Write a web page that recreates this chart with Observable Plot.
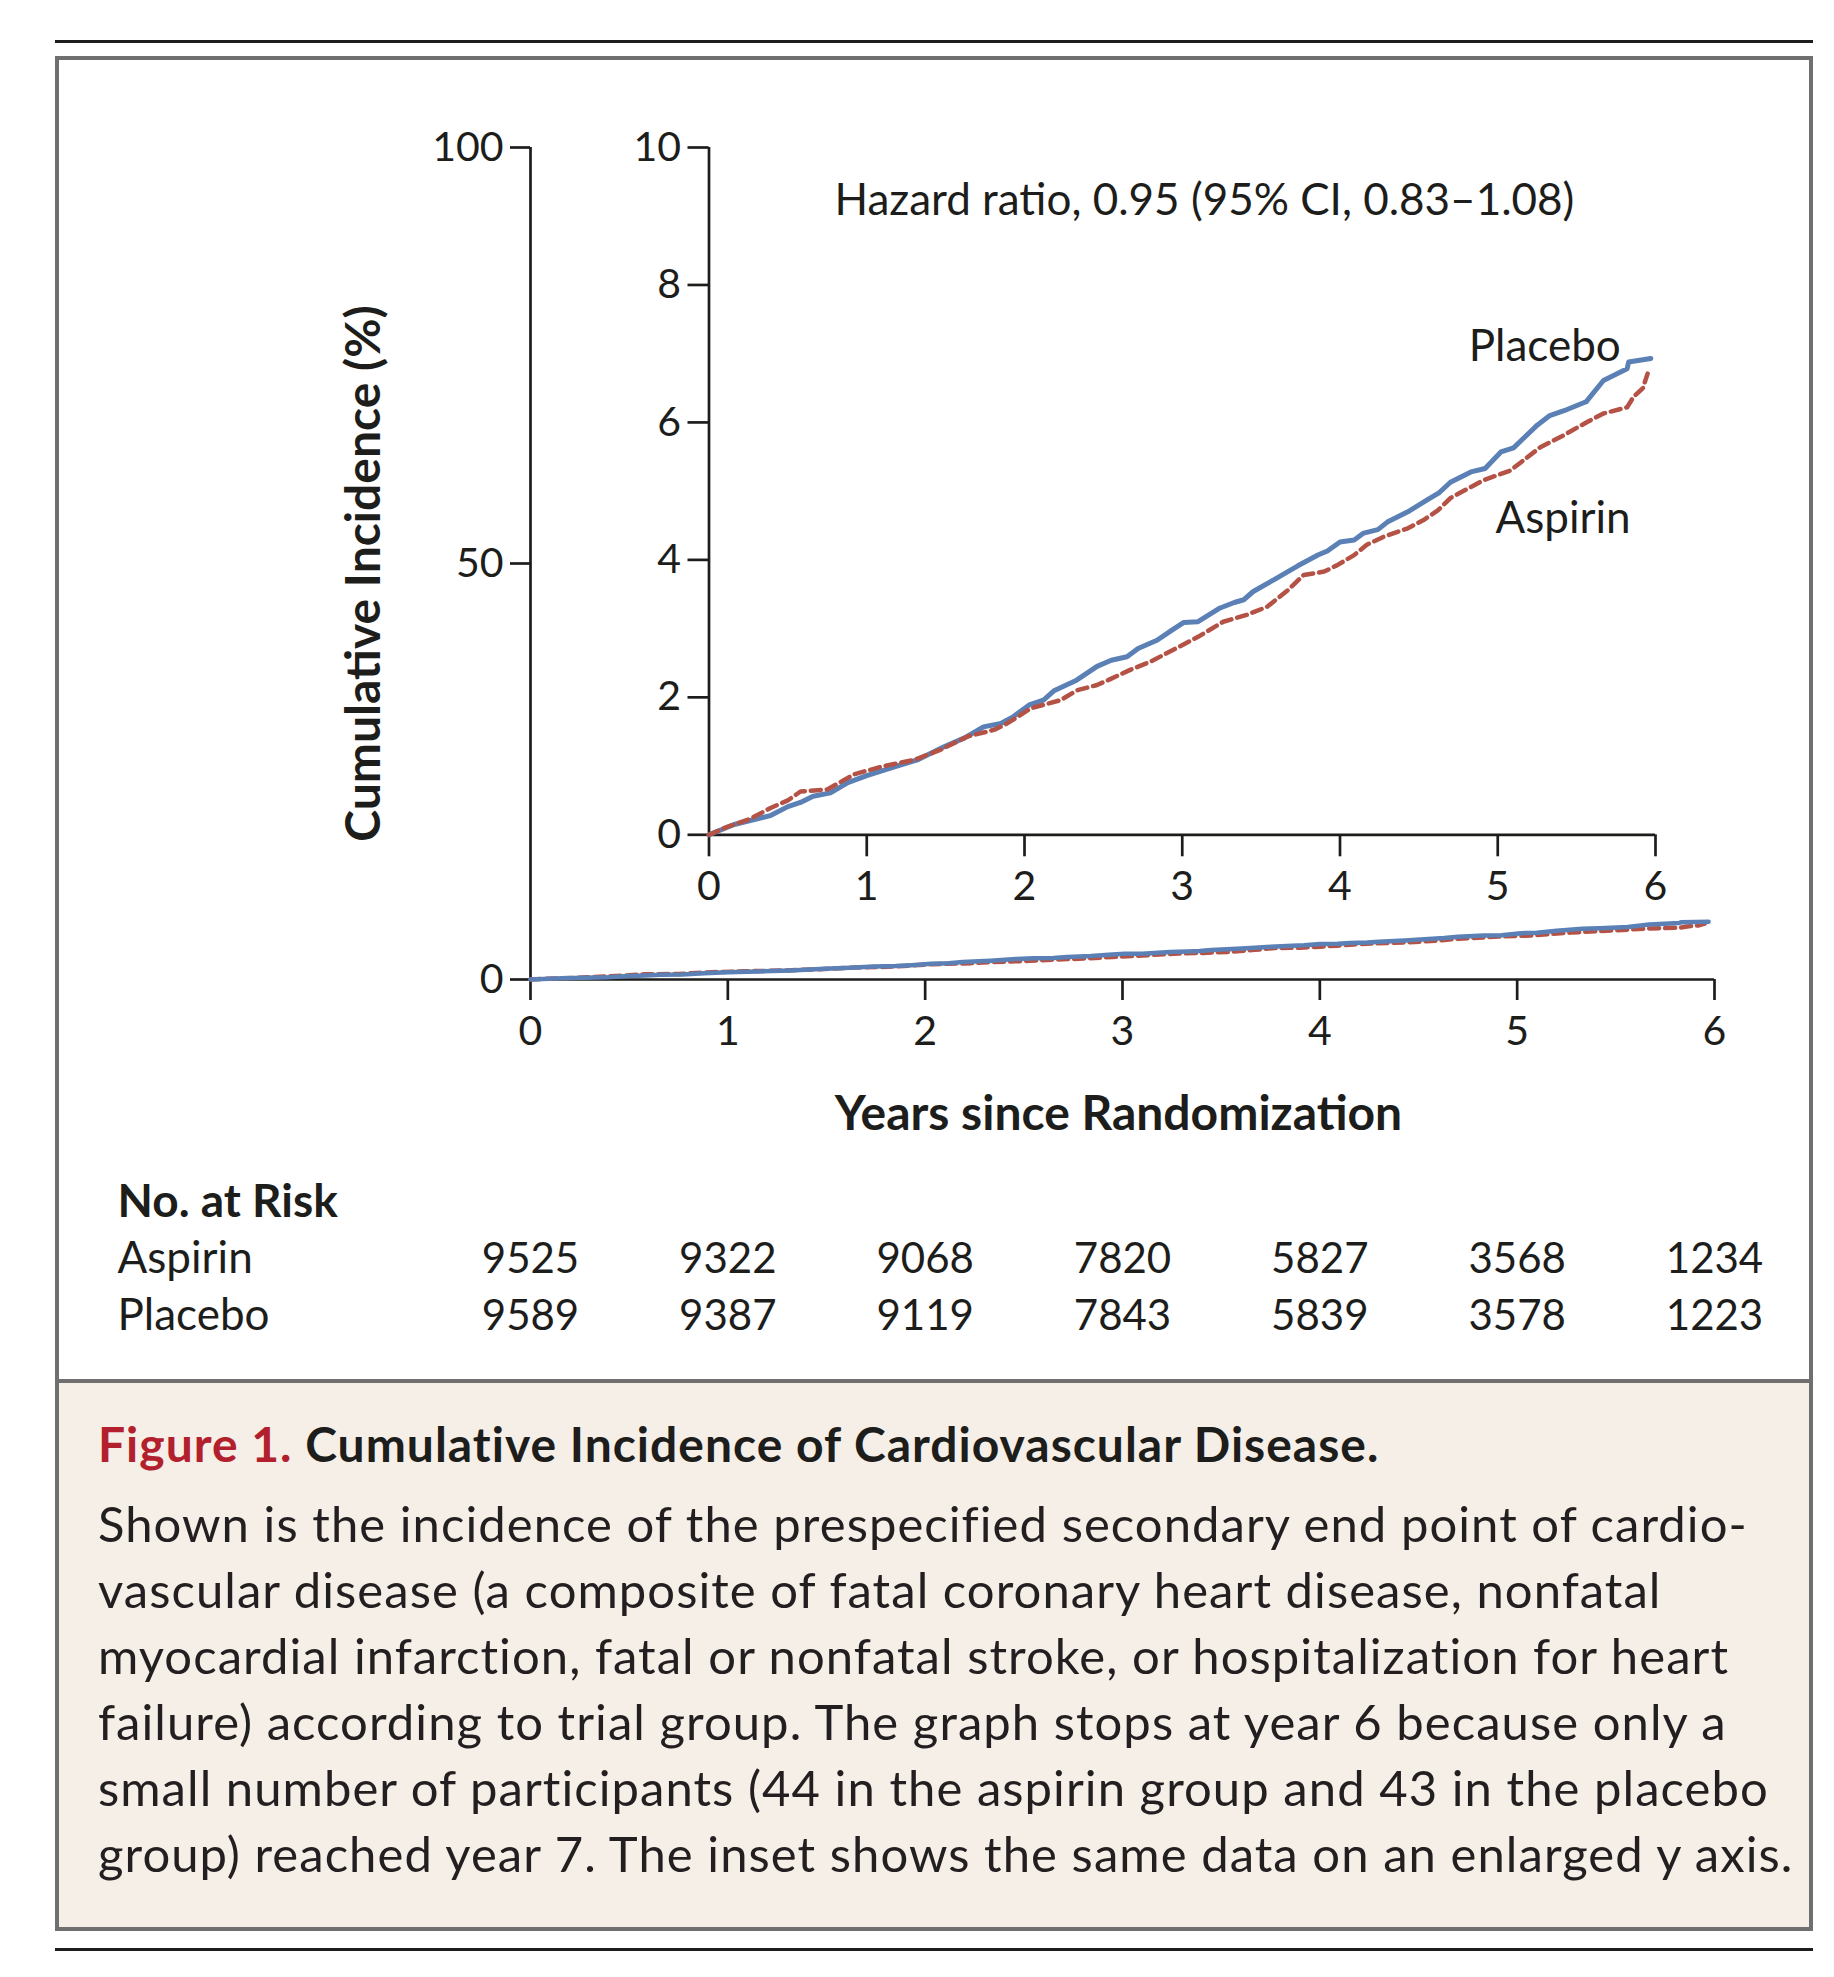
<!DOCTYPE html>
<html>
<head>
<meta charset="utf-8">
<script src="https://cdn.jsdelivr.net/npm/d3@7"></script>
<script src="https://cdn.jsdelivr.net/npm/@observablehq/plot@0.6"></script>
<style>
  html, body { margin: 0; padding: 0; background: #ffffff; overflow: hidden; }
  #fig { position: relative; width: 1834px; height: 1977px; font-family: Lato, "Open Sans", sans-serif; color: #1d1d1b; }
  .rule { position: absolute; left: 55px; width: 1758px; height: 3px; background: #1d1d1b; }
  #box { position: absolute; left: 55px; top: 56px; width: 1758px; height: 1875px; border: 4px solid #6f6f6f; box-sizing: border-box; }
  #capbg { position: absolute; left: 59px; top: 1379px; width: 1750px; height: 548px; background: #f5efe8; border-top: 4px solid #6f6f6f; box-sizing: border-box; }
  .layer { position: absolute; left: 0; top: 0; }
  #captitle { position: absolute; left: 98px; top: 1411px; font-size: 48px; letter-spacing: 1px; line-height: 66px; font-weight: 700; white-space: nowrap; color: #1d1d1b; }
  #captitle span { color: #b3202d; }
  #capbody { position: absolute; left: 98px; top: 1490px; font-size: 49px; letter-spacing: 1.05px; line-height: 66px; white-space: nowrap; color: #231f20; }
</style>
</head>
<body>
<div id="fig">
  <div class="rule" style="top:40px"></div>
  <div id="box"></div>
  <div id="capbg"></div>
  <div id="main" class="layer"></div>
  <div id="inset" class="layer"></div>
  <div id="captitle"></div>
  <div id="capbody"></div>
  <div class="rule" style="top:1948px"></div>
</div>
<script>
// ---- data ----
const xTicks = [0, 1, 2, 3, 4, 5, 6];
const mainYTicks = [0, 50, 100];
const insetYTicks = [0, 2, 4, 6, 8, 10];

const placeboYears = [0, 0.16, 0.39, 0.50, 0.58, 0.66, 0.77, 0.88, 1.00, 1.15, 1.32, 1.49, 1.62, 1.74, 1.85, 1.93, 2.03, 2.12, 2.19, 2.33, 2.46, 2.55, 2.65, 2.72, 2.84, 2.93, 3.01, 3.10, 3.24, 3.33, 3.39, 3.45, 3.58, 3.67, 3.73, 3.86, 3.92, 4.00, 4.09, 4.15, 4.24, 4.30, 4.43, 4.55, 4.63, 4.70, 4.83, 4.92, 5.02, 5.10, 5.20, 5.25, 5.33, 5.42, 5.56, 5.67, 5.82, 5.83, 5.97];
const placeboPct   = [0, 0.15, 0.28, 0.41, 0.47, 0.56, 0.61, 0.76, 0.86, 0.97, 1.09, 1.28, 1.41, 1.57, 1.62, 1.72, 1.89, 1.96, 2.10, 2.25, 2.45, 2.54, 2.59, 2.71, 2.83, 2.97, 3.09, 3.10, 3.30, 3.38, 3.42, 3.54, 3.71, 3.83, 3.91, 4.07, 4.13, 4.26, 4.29, 4.39, 4.44, 4.55, 4.70, 4.87, 4.98, 5.13, 5.28, 5.33, 5.57, 5.63, 5.85, 5.96, 6.10, 6.17, 6.30, 6.61, 6.78, 6.88, 6.93];

const aspirinYears = [0, 0.12, 0.26, 0.39, 0.50, 0.58, 0.75, 0.92, 1.09, 1.30, 1.47, 1.64, 1.81, 1.89, 2.04, 2.23, 2.33, 2.46, 2.53, 2.67, 2.80, 2.95, 3.10, 3.26, 3.41, 3.54, 3.67, 3.77, 3.90, 3.98, 4.09, 4.17, 4.28, 4.43, 4.53, 4.62, 4.70, 4.91, 5.08, 5.27, 5.40, 5.57, 5.67, 5.82, 5.86, 5.92, 5.95];
const aspirinPct   = [0, 0.12, 0.23, 0.39, 0.50, 0.63, 0.66, 0.88, 0.99, 1.09, 1.24, 1.43, 1.53, 1.62, 1.84, 1.96, 2.10, 2.18, 2.25, 2.40, 2.52, 2.70, 2.88, 3.10, 3.20, 3.32, 3.56, 3.78, 3.83, 3.92, 4.07, 4.22, 4.34, 4.46, 4.58, 4.72, 4.90, 5.16, 5.30, 5.64, 5.79, 6.01, 6.13, 6.22, 6.37, 6.50, 6.71];

const atRiskYears   = [0, 1, 2, 3, 4, 5, 6];
const aspirinAtRisk = [9525, 9322, 9068, 7820, 5827, 3568, 1234];
const placeboAtRisk = [9589, 9387, 9119, 7843, 5839, 3578, 1223];

const hazardText = "Hazard ratio, 0.95 (95% CI, 0.83\u20131.08)";
const yLabel = "Cumulative Incidence (%)";
const xLabel = "Years since Randomization";
const riskTitle = "No. at Risk";
const groupNames = ["Aspirin", "Placebo"];

const captionLabel = "Figure 1.";
const captionTitle = "Cumulative Incidence of Cardiovascular Disease.";
const captionLines = [
  "Shown is the incidence of the prespecified secondary end point of cardio-",
  "vascular disease (a composite of fatal coronary heart disease, nonfatal",
  "myocardial infarction, fatal or nonfatal stroke, or hospitalization for heart",
  "failure) according to trial group. The graph stops at year 6 because only a",
  "small number of participants (44 in the aspirin group and 43 in the placebo",
  "group) reached year 7. The inset shows the same data on an enlarged y axis."
];

// ---- build tables ----
const placebo = placeboYears.map((t, i) => ({year: t, pct: placeboPct[i]}));
const aspirin = aspirinYears.map((t, i) => ({year: t, pct: aspirinPct[i]}));
const aspirinRisk = aspirinAtRisk.map((n, i) => ({year: atRiskYears[i], n}));
const placeboRisk = placeboAtRisk.map((n, i) => ({year: atRiskYears[i], n}));

const BLUE = "#5b80b6";
const RED = "#b55246";
const INK = "#1d1d1b";
const AXW = 2.7;
const DASH = "10,6";
const W = 1834, H = 1381;

// ---- main chart ----
const mainLeft = 530, mainRight = 120, mainTop = 147, mainBottom = H - 979;
const main = Plot.plot({
  width: W, height: H,
  marginLeft: mainLeft, marginRight: mainRight, marginTop: mainTop, marginBottom: mainBottom,
  x: {domain: [0, 6]},
  y: {domain: [0, 100]},
  style: {background: "transparent", color: INK, fontFamily: "Lato, sans-serif", overflow: "visible"},
  marks: [
    Plot.ruleX([0], {stroke: INK, strokeWidth: AXW}),
    Plot.ruleY([0], {stroke: INK, strokeWidth: AXW}),
    Plot.axisY({ticks: mainYTicks, tickSize: 20, tickPadding: 7, fontSize: 41, strokeWidth: AXW, label: null, tickFormat: d => String(d)}),
    Plot.axisX({ticks: xTicks, tickSize: 21, tickPadding: 15, fontSize: 41, strokeWidth: AXW, label: null, tickFormat: d => String(d)}),
    Plot.line(aspirin, {x: "year", y: "pct", stroke: RED, strokeWidth: 4.5, strokeDasharray: DASH}),
    Plot.line(placebo, {x: "year", y: "pct", stroke: BLUE, strokeWidth: 4.5}),
    Plot.text([yLabel], {text: d => d, frameAnchor: "left", textAnchor: "middle", rotate: -90, dx: 364 - mainLeft, dy: 10, fontSize: 48, fontWeight: "bold"}),
    Plot.text([xLabel], {text: d => d, frameAnchor: "bottom", textAnchor: "middle", dx: -4, dy: 150, fontSize: 48, fontWeight: "bold"}),
    Plot.text([riskTitle], {text: d => d, frameAnchor: "bottom-left", textAnchor: "start", dx: 117 - mainLeft, dy: 237, fontSize: 46, fontWeight: "bold"}),
    Plot.text([groupNames[0]], {text: d => d, frameAnchor: "bottom-left", textAnchor: "start", dx: 117 - mainLeft, dy: 293, fontSize: 44}),
    Plot.text([groupNames[1]], {text: d => d, frameAnchor: "bottom-left", textAnchor: "start", dx: 117 - mainLeft, dy: 350, fontSize: 44}),
    Plot.text(aspirinRisk, {x: "year", text: d => String(d.n), frameAnchor: "bottom", dy: 293, fontSize: 42}),
    Plot.text(placeboRisk, {x: "year", text: d => String(d.n), frameAnchor: "bottom", dy: 350, fontSize: 42})
  ]
});
document.getElementById("main").appendChild(main);

// ---- inset chart ----
const inLeft = 708.5, inRight = W - 1655, inTop = 147, inBottom = H - 834.3;
const lastP = placebo[placebo.length - 1];
const lastA = aspirin[aspirin.length - 1];
const inset = Plot.plot({
  width: W, height: H,
  marginLeft: inLeft, marginRight: inRight, marginTop: inTop, marginBottom: inBottom,
  x: {domain: [0, 6]},
  y: {domain: [0, 10]},
  style: {background: "transparent", color: INK, fontFamily: "Lato, sans-serif", overflow: "visible"},
  marks: [
    Plot.ruleX([0], {stroke: INK, strokeWidth: AXW}),
    Plot.ruleY([0], {stroke: INK, strokeWidth: AXW}),
    Plot.axisY({ticks: insetYTicks, tickSize: 21, tickPadding: 7, fontSize: 41, strokeWidth: AXW, label: null, tickFormat: d => String(d)}),
    Plot.axisX({ticks: xTicks, tickSize: 22, tickPadding: 14, fontSize: 41, strokeWidth: AXW, label: null, tickFormat: d => String(d)}),
    Plot.line(placebo, {x: "year", y: "pct", stroke: BLUE, strokeWidth: 5}),
    Plot.line(aspirin, {x: "year", y: "pct", stroke: RED, strokeWidth: 4.5, strokeDasharray: DASH}),
    Plot.text([hazardText], {text: d => d, frameAnchor: "top-left", textAnchor: "start", dx: 834 - inLeft, dy: 36, fontSize: 44}),
    Plot.text([lastP], {x: "year", y: "pct", text: () => groupNames[1], textAnchor: "end", dx: -30, dy: -12, fontSize: 44}),
    Plot.text([lastA], {x: "year", y: "pct", text: () => groupNames[0], textAnchor: "end", dx: -17, dy: 145, fontSize: 44})
  ]
});
document.getElementById("inset").appendChild(inset);

// ---- caption ----
const ct = document.getElementById("captitle");
const lab = document.createElement("span");
lab.textContent = captionLabel;
ct.appendChild(lab);
ct.appendChild(document.createTextNode(" " + captionTitle));
const cb = document.getElementById("capbody");
captionLines.forEach(line => {
  const d = document.createElement("div");
  d.textContent = line;
  cb.appendChild(d);
});
</script>
</body>
</html>
